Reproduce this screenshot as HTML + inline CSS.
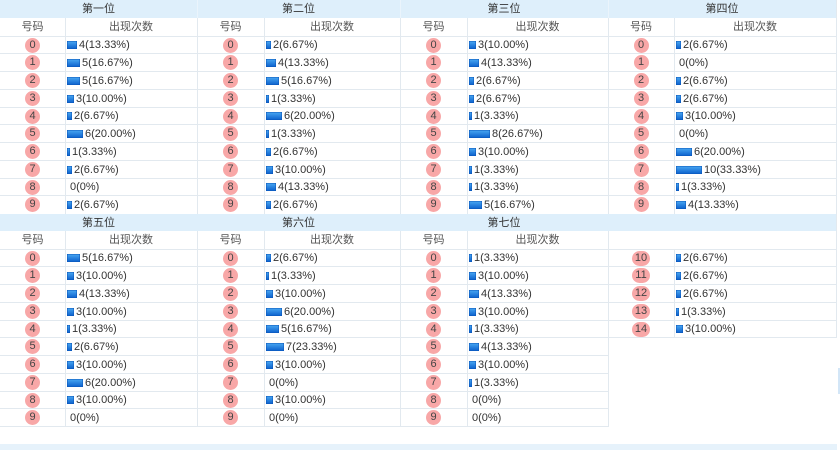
<!DOCTYPE html>
<html><head><meta charset="utf-8">
<style>
html,body{margin:0;padding:0;background:#fff;}
body{width:840px;height:450px;position:relative;overflow:hidden;font-family:"Liberation Sans","Noto Sans CJK SC",sans-serif;}
.band{position:absolute;left:0;width:836px;background:#deeffb;}
.h{position:absolute;height:1px;background:#e2e9ef;}
.v{position:absolute;width:1px;background:#e2e9ef;}
.vb{position:absolute;width:1px;background:#eaf4fc;}
.tt{position:absolute;text-align:center;font-size:11px;color:#333;line-height:18px;}
.hd{position:absolute;text-align:center;font-size:11px;color:#555;line-height:18px;}
.r{position:absolute;left:0;width:836px;height:17.75px;}
.r b{position:absolute;top:1.5px;width:15px;height:15px;border-radius:7.5px;background:#f8a7a7;font-weight:normal;text-align:center;line-height:15px;font-size:11px;color:#444;}
.r b.w{width:18px;border-radius:7.5px;}
.r s{position:absolute;top:0;height:17.75px;display:flex;align-items:center;text-decoration:none;font-size:11px;color:#333;white-space:nowrap;padding-top:1px;box-sizing:border-box;}
.r s.z{padding-left:3px;}
.r i{display:inline-block;height:8px;margin-right:2px;background:linear-gradient(#4aa9f3,#0a5fcc);box-shadow:inset 0 0 0 0.5px #0a55b8;}
</style></head><body>

<div class="band" style="top:0;height:18px"></div>
<div class="band" style="top:213.5px;height:17.5px"></div>
<div class="vb" style="left:197px;top:0;height:18px"></div>
<div class="vb" style="left:400px;top:0;height:18px"></div>
<div class="vb" style="left:608px;top:0;height:18px"></div>

<div class="tt" style="left:0;width:197px;top:0">第一位</div>
<div class="tt" style="left:197px;width:203px;top:0">第二位</div>
<div class="tt" style="left:400px;width:208px;top:0">第三位</div>
<div class="tt" style="left:608px;width:228px;top:0">第四位</div>
<div class="tt" style="left:0;width:197px;top:213.5px">第五位</div>
<div class="tt" style="left:197px;width:203px;top:213.5px">第六位</div>
<div class="tt" style="left:400px;width:208px;top:213.5px">第七位</div>

<div class="hd" style="left:0;width:65px;top:18px">号码</div>
<div class="hd" style="left:65px;width:132px;top:18px">出现次数</div>
<div class="hd" style="left:197px;width:67px;top:18px">号码</div>
<div class="hd" style="left:264px;width:136px;top:18px">出现次数</div>
<div class="hd" style="left:400px;width:67px;top:18px">号码</div>
<div class="hd" style="left:467px;width:141px;top:18px">出现次数</div>
<div class="hd" style="left:608px;width:66px;top:18px">号码</div>
<div class="hd" style="left:674px;width:162px;top:18px">出现次数</div>
<div class="hd" style="left:0;width:65px;top:231px">号码</div>
<div class="hd" style="left:65px;width:132px;top:231px">出现次数</div>
<div class="hd" style="left:197px;width:67px;top:231px">号码</div>
<div class="hd" style="left:264px;width:136px;top:231px">出现次数</div>
<div class="hd" style="left:400px;width:67px;top:231px">号码</div>
<div class="hd" style="left:467px;width:141px;top:231px">出现次数</div>

<div class="h" style="left:0;width:836px;top:35.5px"></div>
<div class="h" style="left:0;width:836px;top:53.25px"></div>
<div class="h" style="left:0;width:836px;top:71px"></div>
<div class="h" style="left:0;width:836px;top:88.75px"></div>
<div class="h" style="left:0;width:836px;top:106.5px"></div>
<div class="h" style="left:0;width:836px;top:124.25px"></div>
<div class="h" style="left:0;width:836px;top:142px"></div>
<div class="h" style="left:0;width:836px;top:159.75px"></div>
<div class="h" style="left:0;width:836px;top:177.5px"></div>
<div class="h" style="left:0;width:836px;top:195.25px"></div>
<div class="h" style="left:0;width:836px;top:248.5px"></div>
<div class="h" style="left:0;width:836px;top:266.25px"></div>
<div class="h" style="left:0;width:836px;top:284px"></div>
<div class="h" style="left:0;width:836px;top:301.75px"></div>
<div class="h" style="left:0;width:836px;top:319.5px"></div>
<div class="h" style="left:0;width:836px;top:337.25px"></div>
<div class="h" style="left:0;width:608px;top:355px"></div>
<div class="h" style="left:0;width:608px;top:372.75px"></div>
<div class="h" style="left:0;width:608px;top:390.5px"></div>
<div class="h" style="left:0;width:608px;top:408.25px"></div>
<div class="h" style="left:0;width:609px;top:426px"></div>

<div class="v" style="left:65px;top:18px;height:195.5px"></div>
<div class="v" style="left:197px;top:18px;height:195.5px"></div>
<div class="v" style="left:264px;top:18px;height:195.5px"></div>
<div class="v" style="left:400px;top:18px;height:195.5px"></div>
<div class="v" style="left:467px;top:18px;height:195.5px"></div>
<div class="v" style="left:608px;top:18px;height:195.5px"></div>
<div class="v" style="left:674px;top:18px;height:195.5px"></div>
<div class="v" style="left:836px;top:0;height:213.5px"></div>
<div class="v" style="left:65px;top:231px;height:195.5px"></div>
<div class="v" style="left:197px;top:231px;height:195.5px"></div>
<div class="v" style="left:264px;top:231px;height:195.5px"></div>
<div class="v" style="left:400px;top:231px;height:195.5px"></div>
<div class="v" style="left:467px;top:231px;height:195.5px"></div>
<div class="v" style="left:608px;top:231px;height:196px"></div>
<div class="v" style="left:674px;top:248.5px;height:89px"></div>
<div class="v" style="left:836px;top:213.5px;height:124px"></div>

<div class="r" style="top:36px">
<b style="left:25px">0</b><s style="left:67px"><i style="width:10px"></i>4(13.33%)</s>
<b style="left:223px">0</b><s style="left:266px"><i style="width:5px"></i>2(6.67%)</s>
<b style="left:426px">0</b><s style="left:469px"><i style="width:7px"></i>3(10.00%)</s>
<b style="left:633.5px">0</b><s style="left:676px"><i style="width:5px"></i>2(6.67%)</s>
</div>
<div class="r" style="top:53.75px">
<b style="left:25px">1</b><s style="left:67px"><i style="width:13px"></i>5(16.67%)</s>
<b style="left:223px">1</b><s style="left:266px"><i style="width:10px"></i>4(13.33%)</s>
<b style="left:426px">1</b><s style="left:469px"><i style="width:10px"></i>4(13.33%)</s>
<b style="left:633.5px">1</b><s class="z" style="left:676px">0(0%)</s>
</div>
<div class="r" style="top:71.5px">
<b style="left:25px">2</b><s style="left:67px"><i style="width:13px"></i>5(16.67%)</s>
<b style="left:223px">2</b><s style="left:266px"><i style="width:13px"></i>5(16.67%)</s>
<b style="left:426px">2</b><s style="left:469px"><i style="width:5px"></i>2(6.67%)</s>
<b style="left:633.5px">2</b><s style="left:676px"><i style="width:5px"></i>2(6.67%)</s>
</div>
<div class="r" style="top:89.25px">
<b style="left:25px">3</b><s style="left:67px"><i style="width:7px"></i>3(10.00%)</s>
<b style="left:223px">3</b><s style="left:266px"><i style="width:3px"></i>1(3.33%)</s>
<b style="left:426px">3</b><s style="left:469px"><i style="width:5px"></i>2(6.67%)</s>
<b style="left:633.5px">3</b><s style="left:676px"><i style="width:5px"></i>2(6.67%)</s>
</div>
<div class="r" style="top:107px">
<b style="left:25px">4</b><s style="left:67px"><i style="width:5px"></i>2(6.67%)</s>
<b style="left:223px">4</b><s style="left:266px"><i style="width:16px"></i>6(20.00%)</s>
<b style="left:426px">4</b><s style="left:469px"><i style="width:3px"></i>1(3.33%)</s>
<b style="left:633.5px">4</b><s style="left:676px"><i style="width:7px"></i>3(10.00%)</s>
</div>
<div class="r" style="top:124.75px">
<b style="left:25px">5</b><s style="left:67px"><i style="width:16px"></i>6(20.00%)</s>
<b style="left:223px">5</b><s style="left:266px"><i style="width:3px"></i>1(3.33%)</s>
<b style="left:426px">5</b><s style="left:469px"><i style="width:21px"></i>8(26.67%)</s>
<b style="left:633.5px">5</b><s class="z" style="left:676px">0(0%)</s>
</div>
<div class="r" style="top:142.5px">
<b style="left:25px">6</b><s style="left:67px"><i style="width:3px"></i>1(3.33%)</s>
<b style="left:223px">6</b><s style="left:266px"><i style="width:5px"></i>2(6.67%)</s>
<b style="left:426px">6</b><s style="left:469px"><i style="width:7px"></i>3(10.00%)</s>
<b style="left:633.5px">6</b><s style="left:676px"><i style="width:16px"></i>6(20.00%)</s>
</div>
<div class="r" style="top:160.25px">
<b style="left:25px">7</b><s style="left:67px"><i style="width:5px"></i>2(6.67%)</s>
<b style="left:223px">7</b><s style="left:266px"><i style="width:7px"></i>3(10.00%)</s>
<b style="left:426px">7</b><s style="left:469px"><i style="width:3px"></i>1(3.33%)</s>
<b style="left:633.5px">7</b><s style="left:676px"><i style="width:26px"></i>10(33.33%)</s>
</div>
<div class="r" style="top:178px">
<b style="left:25px">8</b><s class="z" style="left:67px">0(0%)</s>
<b style="left:223px">8</b><s style="left:266px"><i style="width:10px"></i>4(13.33%)</s>
<b style="left:426px">8</b><s style="left:469px"><i style="width:3px"></i>1(3.33%)</s>
<b style="left:633.5px">8</b><s style="left:676px"><i style="width:3px"></i>1(3.33%)</s>
</div>
<div class="r" style="top:195.75px">
<b style="left:25px">9</b><s style="left:67px"><i style="width:5px"></i>2(6.67%)</s>
<b style="left:223px">9</b><s style="left:266px"><i style="width:5px"></i>2(6.67%)</s>
<b style="left:426px">9</b><s style="left:469px"><i style="width:13px"></i>5(16.67%)</s>
<b style="left:633.5px">9</b><s style="left:676px"><i style="width:10px"></i>4(13.33%)</s>
</div>

<div class="r" style="top:249px">
<b style="left:25px">0</b><s style="left:67px"><i style="width:13px"></i>5(16.67%)</s>
<b style="left:223px">0</b><s style="left:266px"><i style="width:5px"></i>2(6.67%)</s>
<b style="left:426px">0</b><s style="left:469px"><i style="width:3px"></i>1(3.33%)</s>
<b class="w" style="left:632px">10</b><s style="left:676px"><i style="width:5px"></i>2(6.67%)</s>
</div>
<div class="r" style="top:266.75px">
<b style="left:25px">1</b><s style="left:67px"><i style="width:7px"></i>3(10.00%)</s>
<b style="left:223px">1</b><s style="left:266px"><i style="width:3px"></i>1(3.33%)</s>
<b style="left:426px">1</b><s style="left:469px"><i style="width:7px"></i>3(10.00%)</s>
<b class="w" style="left:632px">11</b><s style="left:676px"><i style="width:5px"></i>2(6.67%)</s>
</div>
<div class="r" style="top:284.5px">
<b style="left:25px">2</b><s style="left:67px"><i style="width:10px"></i>4(13.33%)</s>
<b style="left:223px">2</b><s style="left:266px"><i style="width:7px"></i>3(10.00%)</s>
<b style="left:426px">2</b><s style="left:469px"><i style="width:10px"></i>4(13.33%)</s>
<b class="w" style="left:632px">12</b><s style="left:676px"><i style="width:5px"></i>2(6.67%)</s>
</div>
<div class="r" style="top:302.25px">
<b style="left:25px">3</b><s style="left:67px"><i style="width:7px"></i>3(10.00%)</s>
<b style="left:223px">3</b><s style="left:266px"><i style="width:16px"></i>6(20.00%)</s>
<b style="left:426px">3</b><s style="left:469px"><i style="width:7px"></i>3(10.00%)</s>
<b class="w" style="left:632px">13</b><s style="left:676px"><i style="width:3px"></i>1(3.33%)</s>
</div>
<div class="r" style="top:320px">
<b style="left:25px">4</b><s style="left:67px"><i style="width:3px"></i>1(3.33%)</s>
<b style="left:223px">4</b><s style="left:266px"><i style="width:13px"></i>5(16.67%)</s>
<b style="left:426px">4</b><s style="left:469px"><i style="width:3px"></i>1(3.33%)</s>
<b class="w" style="left:632px">14</b><s style="left:676px"><i style="width:7px"></i>3(10.00%)</s>
</div>
<div class="r" style="top:337.75px">
<b style="left:25px">5</b><s style="left:67px"><i style="width:5px"></i>2(6.67%)</s>
<b style="left:223px">5</b><s style="left:266px"><i style="width:18px"></i>7(23.33%)</s>
<b style="left:426px">5</b><s style="left:469px"><i style="width:10px"></i>4(13.33%)</s>
</div>
<div class="r" style="top:355.5px">
<b style="left:25px">6</b><s style="left:67px"><i style="width:7px"></i>3(10.00%)</s>
<b style="left:223px">6</b><s style="left:266px"><i style="width:7px"></i>3(10.00%)</s>
<b style="left:426px">6</b><s style="left:469px"><i style="width:7px"></i>3(10.00%)</s>
</div>
<div class="r" style="top:373.25px">
<b style="left:25px">7</b><s style="left:67px"><i style="width:16px"></i>6(20.00%)</s>
<b style="left:223px">7</b><s class="z" style="left:266px">0(0%)</s>
<b style="left:426px">7</b><s style="left:469px"><i style="width:3px"></i>1(3.33%)</s>
</div>
<div class="r" style="top:391px">
<b style="left:25px">8</b><s style="left:67px"><i style="width:7px"></i>3(10.00%)</s>
<b style="left:223px">8</b><s style="left:266px"><i style="width:7px"></i>3(10.00%)</s>
<b style="left:426px">8</b><s class="z" style="left:469px">0(0%)</s>
</div>
<div class="r" style="top:408.75px">
<b style="left:25px">9</b><s class="z" style="left:67px">0(0%)</s>
<b style="left:223px">9</b><s class="z" style="left:266px">0(0%)</s>
<b style="left:426px">9</b><s class="z" style="left:469px">0(0%)</s>
</div>

<div style="position:absolute;left:0;top:444px;width:837px;height:6px;background:#e6f2fb"></div>
<div style="position:absolute;left:838px;top:368px;width:1.5px;height:26px;background:#d3e6f7"></div>
</body></html>
